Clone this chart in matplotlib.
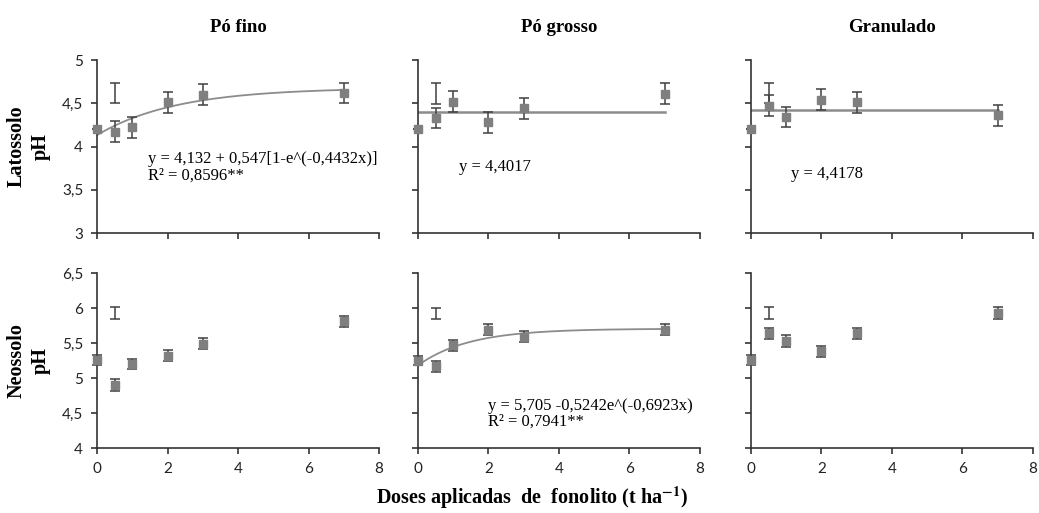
import matplotlib.pyplot as plt
import numpy as np

plt.rcParams['mathtext.fontset'] = 'stix'

# doses (t/ha)
doses = [0, 0.5, 1, 2, 3, 7]

# Latossolo pH (top row)
lat_fino = [4.20, 4.17, 4.22, 4.51, 4.60, 4.62]
lat_fino_err = [0.0, 0.12, 0.12, 0.12, 0.12, 0.12]
lat_grosso = [4.20, 4.33, 4.52, 4.28, 4.44, 4.61]
lat_grosso_err = [0.0, 0.12, 0.12, 0.12, 0.12, 0.12]
lat_gran = [4.20, 4.47, 4.34, 4.54, 4.51, 4.36]
lat_gran_err = [0.0, 0.12, 0.12, 0.12, 0.12, 0.12]

# Neossolo pH (bottom row)
neo_fino = [5.26, 4.90, 5.20, 5.32, 5.49, 5.81]
neo_fino_err = [0.07, 0.08, 0.07, 0.08, 0.08, 0.08]
neo_grosso = [5.25, 5.17, 5.47, 5.69, 5.59, 5.69]
neo_grosso_err = [0.07, 0.08, 0.08, 0.08, 0.08, 0.08]
neo_gran = [5.26, 5.64, 5.53, 5.38, 5.64, 5.93]
neo_gran_err = [0.07, 0.08, 0.08, 0.08, 0.08, 0.08]

# lone error bars at x = 0.5 (marker not shown)
stray_x = 0.5
stray_top = [4.62, 4.61, 4.62]
stray_top_err = [0.12, 0.12, 0.12]
stray_bot = [5.93, 5.92, 5.93]
stray_bot_err = [0.08, 0.08, 0.08]

titles = ['Pó fino', 'Pó grosso', 'Granulado']
row_labels = ['Latossolo\npH', 'Neossolo\npH']

top_means = [lat_fino, lat_grosso, lat_gran]
top_errs = [lat_fino_err, lat_grosso_err, lat_gran_err]
bot_means = [neo_fino, neo_grosso, neo_gran]
bot_errs = [neo_fino_err, neo_grosso_err, neo_gran_err]

marker_col = '#7f7f7f'
line_col = '#8c8c8c'
err_col = '#404040'
ax_col = '#333333'
serif = 'Liberation Serif'
tickfont = 'Lato'

fig = plt.figure(figsize=(10.39, 5.13), dpi=100)

lefts = [0.0934, 0.4023, 0.7228]
width = 0.2714
bottoms = [0.5458, 0.1267]
heights = [0.3372, 0.341]

xx = np.linspace(0, 7, 200)

for r in range(2):
    for c in range(3):
        ax = fig.add_axes([lefts[c], bottoms[r], width, heights[r]])
        if r == 0:
            m, e = top_means[c], top_errs[c]
            sm, se = stray_top[c], stray_top_err[c]
        else:
            m, e = bot_means[c], bot_errs[c]
            sm, se = stray_bot[c], stray_bot_err[c]

        # fitted lines
        if r == 0 and c == 0:
            ax.plot(xx, 4.132 + 0.547 * (1 - np.exp(-0.4432 * xx)), color=line_col, lw=1.3, zorder=2)
        elif r == 0 and c == 1:
            ax.plot([0, 7], [4.4017, 4.4017], color=line_col, lw=1.8, zorder=2)
        elif r == 0 and c == 2:
            ax.plot([0, 7], [4.4178, 4.4178], color=line_col, lw=1.8, zorder=2)
        elif r == 1 and c == 1:
            ax.plot(xx, 5.705 - 0.5242 * np.exp(-0.6923 * xx), color=line_col, lw=1.3, zorder=2)

        ax.errorbar(doses, m, yerr=e, fmt='s', color=marker_col, ms=5.2,
                    ecolor=err_col, elinewidth=1.1, capsize=3.5, capthick=1.1,
                    clip_on=False, zorder=3)
        ax.errorbar([stray_x], [sm], yerr=[se], fmt='none', ecolor=err_col,
                    elinewidth=1.1, capsize=3.5, capthick=1.1, zorder=3)

        ax.set_xlim(0, 8)
        ax.set_xticks([0, 2, 4, 6, 8])
        if r == 0:
            ax.set_ylim(3, 5)
            ax.set_yticks([3, 3.5, 4, 4.5, 5])
            ax.set_xticklabels([])
        else:
            ax.set_ylim(4, 6.5)
            ax.set_yticks([4, 4.5, 5, 5.5, 6, 6.5])
            ax.set_xticklabels(['0', '2', '4', '6', '8'], fontfamily=tickfont, fontsize=11)
        if c == 0:
            ax.set_yticklabels([f'{v:g}'.replace('.', ',') for v in ax.get_yticks()],
                               fontfamily=tickfont, fontsize=11)
            ax.set_ylabel(row_labels[r], fontfamily=serif, fontweight='bold', fontsize=14.5,
                          linespacing=1.25, labelpad=8)
        else:
            ax.set_yticklabels([])

        for s in ['top', 'right']:
            ax.spines[s].set_visible(False)
        for s in ['left', 'bottom']:
            ax.spines[s].set_color(ax_col)
            ax.spines[s].set_linewidth(1.2)
        ax.tick_params(direction='out', length=4, width=1.2, color=ax_col,
                       labelcolor='#222222', pad=6)

        if r == 0:
            ax.set_title(titles[c], fontfamily=serif, fontweight='bold', fontsize=13.5, pad=20)

        # equations
        if r == 0 and c == 0:
            ax.text(1.45, 3.76, 'y = 4,132 + 0,547[1-e^(-0,4432x)]\nR² = 0,8596**',
                    fontfamily=serif, fontsize=12, va='center', ha='left', linespacing=1.0)
        elif r == 0 and c == 1:
            ax.text(1.15, 3.76, 'y = 4,4017', fontfamily=serif, fontsize=12, va='center')
        elif r == 0 and c == 2:
            ax.text(1.13, 3.68, 'y = 4,4178', fontfamily=serif, fontsize=12, va='center')
        elif r == 1 and c == 1:
            ax.text(2.0, 4.49, 'y = 5,705 -0,5242e^(-0,6923x)\nR² = 0,7941**',
                    fontfamily=serif, fontsize=12, va='center', ha='left', linespacing=1.0)

fig.text(0.512, 0.03, 'Doses aplicadas  de  fonolito (t ha$^{\\mathbf{-1}}$)', ha='center', va='center',
         fontfamily=serif, fontweight='bold', fontsize=14.5)

fig.savefig('out.png', dpi=100)
